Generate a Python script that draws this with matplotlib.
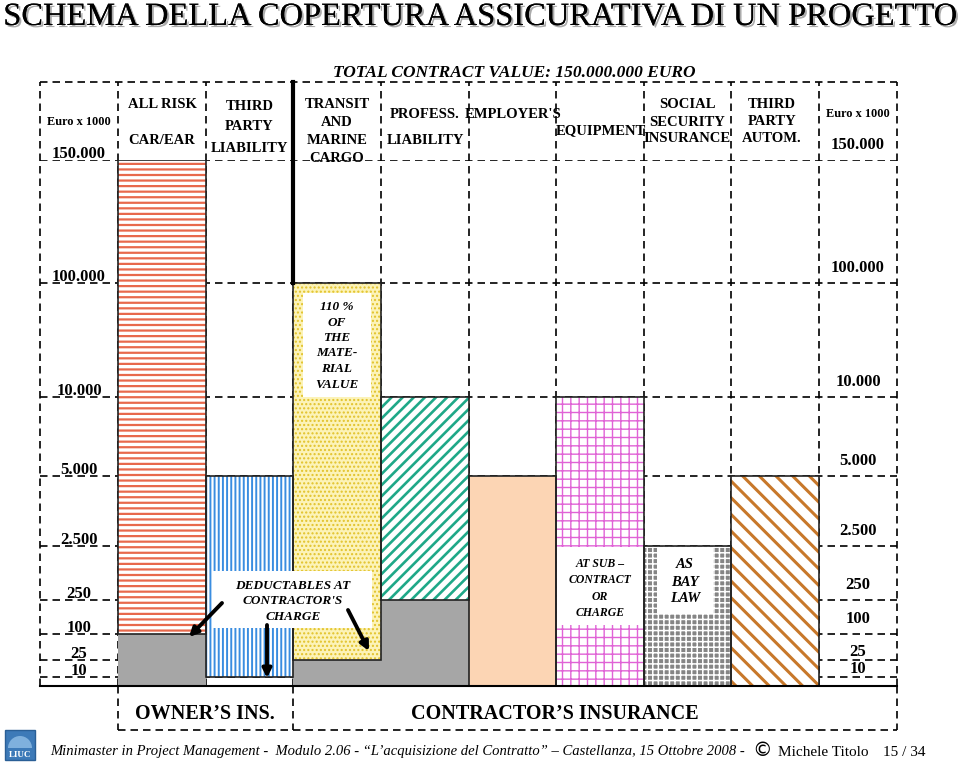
import numpy as np
import matplotlib
matplotlib.use("Agg")
import matplotlib.pyplot as plt
from matplotlib.patches import Rectangle
import matplotlib.patheffects as pe
from matplotlib.transforms import offset_copy

# ---------------- data ----------------
categories = ["ALL RISK CAR/EAR", "THIRD PARTY LIABILITY", "TRANSIT AND MARINE CARGO",
              "PROFESS. LIABILITY", "EMPLOYER'S", "EQUIPMENT",
              "SOCIAL SECURITY INSURANCE", "THIRD PARTY AUTOM."]
coverage_limit = [150000, 5000, 100000, 10000, 5000, 10000, 2500, 5000]
deductible = [100, 10, 25, 250, 0, 0, 0, 0]
tick_values = [10, 25, 100, 250, 2500, 5000, 10000, 100000, 150000]
tick_labels = ["10", "25", "100", "250", "2.500", "5.000", "10.000", "100.000", "150.000"]
header_labels = ["ALL RISK\n\nCAR/EAR", "THIRD\nPARTY\nLIABILITY", "TRANSIT\nAND\nMARINE\nCARGO",
                 "PROFESS.\nLIABILITY", "EMPLOYER'S", "EQUIPMENT",
                 "SOCIAL\nSECURITY\nINSURANCE", "THIRD\nPARTY\nAUTOM."]
title = "SCHEMA DELLA COPERTURA ASSICURATIVA DI UN PROGETTO"
subtitle = "TOTAL CONTRACT VALUE: 150.000.000 EURO"
unit_label = "Euro x 1000"

# ---------------- style ----------------
plt.rcParams['font.family'] = ['Liberation Serif', 'DejaVu Serif']
plt.rcParams['hatch.linewidth'] = 1.6
W, H = 960, 762
scale_breaks = [0, 10, 25, 100, 250, 2500, 5000, 10000, 100000, 150000]
scale_heights = [0, 9, 26, 52, 86, 140, 210, 289, 403, 526]

def fwd(v):
    return np.interp(v, scale_breaks, scale_heights)

def inv(h):
    return np.interp(h, scale_heights, scale_breaks)

face_colors = ['white', 'white', '#fcf3b8', 'white', '#fcd5b4', 'white', '#858585', 'white']
hatch_colors = ['#e8694c', '#3a8de0', '#e2c22a', '#1fa888', '#fcd5b4', '#e063d6', 'white', '#c8782a']
hatches = ['---', '||||', '....', '///', None, '++', '+++', '\\\\']
hatch_lw = [1.6, 1.4, 1.0, 1.9, 1.0, 1.0, 1.1, 2.2]
gray_shown = [True, False, True, True, False, False, False, False]
gray_color = '#a6a6a6'
dash = (0, (4.5, 3))

fig = plt.figure(figsize=(W / 100, H / 100), dpi=100)
fig.patch.set_facecolor('white')
ax = fig.add_axes([40 / W, (H - 686) / H, (897 - 40) / W, (686 - 160) / H])
ax.set_yscale('function', functions=(fwd, inv))
side = 78 / 87.6
n = len(categories)
x_left, x_right = -0.5 - side, n - 0.5 + side
ax.set_xlim(x_left, x_right)
ax.set_ylim(0, coverage_limit[0])
ax.set_xticks([])
ax.set_yticks([])
ax.yaxis.set_minor_locator(matplotlib.ticker.NullLocator())
for s in ax.spines.values():
    s.set_visible(False)

xt = ax.get_xaxis_transform()
top_frac = (686 - 82) / (686 - 160)
bot_frac = -(730 - 686) / (686 - 160)

# horizontal grid at tick values
for v in tick_values:
    ax.axhline(v, color='black', lw=1.2, ls=dash, zorder=1)
# vertical column boundaries
bounds = [x_left] + [i - 0.5 for i in range(n + 1)] + [x_right]
for b in bounds:
    ax.plot([b, b], [0, top_frac], transform=xt, color='black', lw=1.2, ls=dash,
            zorder=1, clip_on=False)
ax.plot([x_left, x_right], [top_frac, top_frac], transform=xt, color='black', lw=1.2,
        ls=dash, clip_on=False)
# bottom box
for b in [-0.5, 1.5, x_right]:
    ax.plot([b, b], [0, bot_frac], transform=xt, color='black', lw=1.2, ls=dash, clip_on=False)
ax.plot([-0.5, x_right], [bot_frac, bot_frac], transform=xt, color='black', lw=1.2,
        ls=dash, clip_on=False)

# bars
x = np.arange(n)
for i in range(n):
    if gray_shown[i] and deductible[i] > 0:
        ax.bar(x[i], deductible[i], bottom=0, width=1, color=gray_color,
               edgecolor='none', zorder=2)
    h = coverage_limit[i] - deductible[i]
    bars = ax.bar(x[i], h, bottom=deductible[i], width=1, facecolor=face_colors[i],
                  edgecolor=hatch_colors[i], hatch=hatches[i], linewidth=0, zorder=3)
    for p in bars:
        if hasattr(p, 'set_hatch_linewidth'):
            p.set_hatch_linewidth(hatch_lw[i])
    ax.bar(x[i], h, bottom=deductible[i], width=1, fill=False, edgecolor='#222222',
           linewidth=1.2, zorder=4)

# thick separator line
frac_transit = fwd(coverage_limit[2]) / fwd(coverage_limit[0])
ax.plot([1.5, 1.5], [frac_transit, top_frac], transform=xt, color='black', lw=3,
        zorder=5, clip_on=False)
# baseline
ax.plot([x_left, x_right], [0, 0], transform=xt, color='black', lw=1.5, zorder=6,
        clip_on=False)

# axis value labels
right_off = [4, 4, 11, 11, 11, 11, 11, 11, 11]
for v, lab, ro in zip(tick_values, tick_labels, right_off):
    tl = offset_copy(ax.transData, fig=fig, x=0, y=2, units='dots')
    ax.text(x_left + side / 2, v, lab, transform=tl, ha='center', va='baseline',
            fontsize=12, fontweight='bold', zorder=7)
    tr = offset_copy(ax.transData, fig=fig, x=0, y=ro, units='dots')
    ax.text(x_right - side / 2, v, lab, transform=tr, ha='center', va='baseline',
            fontsize=12, fontweight='bold', zorder=7)

# ---------------- overlay (pixel coordinates) ----------------
ov = fig.add_axes([0, 0, 1, 1])
ov.set_xlim(0, W)
ov.set_ylim(H, 0)
ov.axis('off')
ov.patch.set_visible(False)

ov.text(480, 25, title, fontsize=23.4, ha='center', va='baseline', color='black',
        path_effects=[pe.withSimplePatchShadow(offset=(1.5, -1.5), shadow_rgbFace='#888888',
                                               alpha=0.7), pe.Normal()])
ov.text(514, 73, subtitle, fontsize=12.5, fontweight='bold', style='italic',
        ha='center', va='center')

# header labels
col_cx = [162, 249.5, 337, 425, 513, 601, 687, 772]
head_y0 = [104, 106, 104, 114, 114, 131, 105, 104]
head_step = [18.5, 21, 18, 26, 0, 0, 17, 17.5]
for lab, cx, y0, st in zip(header_labels, col_cx, head_y0, head_step):
    for k, line in enumerate(lab.split('\n')):
        if line:
            ov.text(cx, y0 + k * st, line, fontsize=10.5, fontweight='bold',
                    ha='center', va='center')
ov.text(79, 122, unit_label, fontsize=8.8, fontweight='bold', ha='center', va='center')
ov.text(858, 114, unit_label, fontsize=8.8, fontweight='bold', ha='center', va='center')

# text boxes
def box(x0, y0, x1, y1, lines, cx, ty0, step, fs):
    ov.add_patch(Rectangle((x0, y0), x1 - x0, y1 - y0, facecolor='white', edgecolor='none'))
    for k, line in enumerate(lines):
        ov.text(cx, ty0 + k * step, line, fontsize=fs, fontweight='bold', style='italic',
                ha='center', va='center')

box(303, 293, 371, 397, ["110 %", "OF", "THE", "MATE-", "RIAL", "VALUE"], 337, 307, 15.5, 9.5)
box(213, 571, 372, 628, ["DEDUCTABLES AT", "CONTRACTOR'S", "CHARGE"], 293, 586, 15.5, 9.5)
box(557, 547, 643, 625, ["AT SUB \u2013", "CONTRACT", "OR", "CHARGE"], 600, 564, 16.3, 8.5)
box(657, 548, 713, 614, ["AS", "BAY", "LAW"], 685, 565, 17, 10.5)

arrows = [((222, 603), (189, 637)), ((267, 625), (267, 678)), ((348, 610), (369, 651))]
for (sx, sy), (ex, ey) in arrows:
    ov.annotate('', xy=(ex, ey), xytext=(sx, sy),
                arrowprops=dict(arrowstyle='-|>', lw=2.8, color='black', mutation_scale=13,
                                shrinkA=0, shrinkB=0))

# bottom box labels
ov.text(205, 714, "OWNER\u2019S INS.", fontsize=14.5, fontweight='bold', ha='center', va='center')
ov.text(555, 714, "CONTRACTOR\u2019S INSURANCE", fontsize=14.5, fontweight='bold',
        ha='center', va='center')

# footer
ov.add_patch(Rectangle((5, 730), 30, 30, facecolor='#3d7ab8', edgecolor='#2a5f96'))
ov.add_patch(matplotlib.patches.Wedge((20, 748), 12, 180, 360, facecolor='#7fb0dd',
                                      edgecolor='none'))
ov.text(20, 755, "LIUC", fontsize=6.5, fontweight='bold', color='white', ha='center', va='center')
ov.text(50, 752, "Minimaster in Project Management -  Modulo 2.06 - \u201cL\u2019acquisizione del "
        "Contratto\u201d \u2013 Castellanza, 15 Ottobre 2008 -", fontsize=10.5, style='italic',
        ha='left', va='center')
ov.text(762, 751, "\u00a9", fontsize=14, ha='center', va='center', family='DejaVu Sans')
ov.text(778, 752, "Michele Titolo", fontsize=11, ha='left', va='center')
ov.text(883, 752, "15 / 34", fontsize=11, ha='left', va='center')

fig.savefig("out.png", dpi=100, facecolor='white')
